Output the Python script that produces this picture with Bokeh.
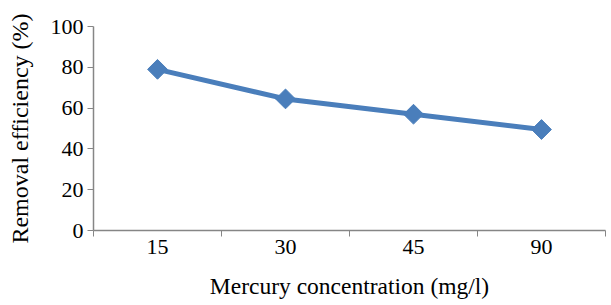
import math
from bokeh.plotting import figure
from bokeh.models import Range1d, FixedTicker
from bokeh.embed import file_html
from bokeh.resources import INLINE

categories = ["15", "30", "45", "90"]
removal = [79, 64.5, 57, 49.5]
y_ticks = [0, 20, 40, 60, 80, 100]

xs = [i + 0.5 for i in range(len(categories))]

FONT = "Liberation Serif"
AXIS_COLOR = "#868686"
BLUE = "#4A7EBB"

p = figure(width=611, height=305, output_backend="svg", toolbar_location=None,
           x_range=Range1d(0, len(categories)), y_range=Range1d(0, 100),
           min_border_left=93, min_border_right=6, min_border_top=26, min_border_bottom=75)
p.outline_line_color = None
p.xgrid.visible = False
p.ygrid.visible = False

p.line(xs, removal, line_color=BLUE, line_width=5)
p.scatter(xs, removal, marker="square", angle=math.pi / 4, size=14,
          fill_color=BLUE, line_color=BLUE)

# x axis: labels at category centres, ticks at category boundaries
xa = p.xaxis[0]
xa.ticker = FixedTicker(ticks=xs, minor_ticks=list(range(len(categories) + 1)))
xa.major_label_overrides = {x: c for x, c in zip(xs, categories)}
xa.major_tick_in = 0
xa.major_tick_out = 0
xa.minor_tick_in = 0
xa.minor_tick_out = 6
xa.minor_tick_line_color = AXIS_COLOR
xa.axis_line_color = AXIS_COLOR
xa.axis_label = "Mercury concentration (mg/l)"
xa.major_label_standoff = 3
xa.axis_label_standoff = 16

ya = p.yaxis[0]
ya.ticker = FixedTicker(ticks=y_ticks, minor_ticks=[])
ya.major_tick_in = 0
ya.major_tick_out = 6
ya.major_tick_line_color = AXIS_COLOR
ya.axis_line_color = AXIS_COLOR
ya.axis_label = "Removal efficiency (%)"
ya.major_label_standoff = 4
ya.axis_label_standoff = 15

for ax in (xa, ya):
    ax.major_label_text_font = FONT
    ax.major_label_text_font_size = "22px"
    ax.major_label_text_color = "black"
    ax.axis_label_text_font = FONT
    ax.axis_label_text_font_style = "normal"
    ax.axis_label_text_color = "black"
    ax.axis_line_width = 1.5
xa.axis_label_text_font_size = "23.5px"
ya.axis_label_text_font_size = "24px"

open("out.html", "w").write(file_html(p, INLINE))
